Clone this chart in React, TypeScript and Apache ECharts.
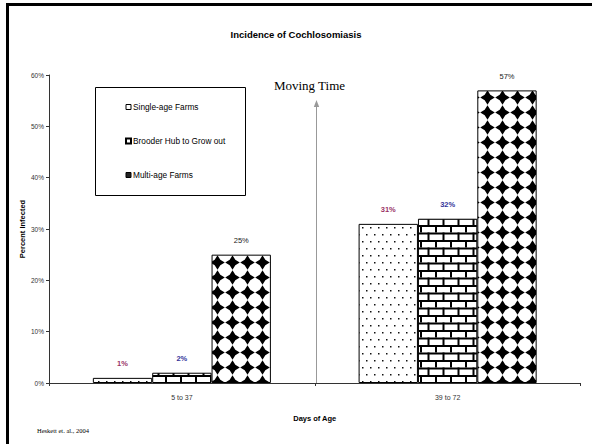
import React, { useEffect, useRef } from "react";
import * as echarts from "echarts";

const categories = ["5 to 37", "39 to 72"];
const seriesNames = ["Single-age Farms", "Brooder Hub to Grow out", "Multi-age Farms"];
const singleAge = [1, 31];
const brooderHub = [2, 32];
const multiAge = [25, 57];
const yTicks = { min: 0, max: 60, interval: 10 };

const NARROW = "'Liberation Sans Narrow', 'Arial Narrow', 'Liberation Sans', Arial, sans-serif";
const SERIF = "'Liberation Serif', 'Times New Roman', serif";

function svgUrl(svg: string) {
  return "data:image/svg+xml;utf8," + encodeURIComponent(svg);
}

const dotsTile = svgUrl(
  `<svg xmlns="http://www.w3.org/2000/svg" width="8" height="14"><rect width="8" height="14" fill="#fff"/><rect x="2" y="3" width="1.5" height="1.5" fill="#111"/><rect x="6" y="10" width="1.5" height="1.5" fill="#111"/></svg>`
);
const brickTile = svgUrl(
  `<svg xmlns="http://www.w3.org/2000/svg" width="15" height="15"><rect width="15" height="15" fill="#fff"/><rect x="0" y="0" width="15" height="2" fill="#000"/><rect x="0" y="7.5" width="15" height="2" fill="#000"/><rect x="0" y="0" width="2" height="7.5" fill="#000"/><rect x="7.5" y="7.5" width="2" height="7.5" fill="#000"/></svg>`
);
const diamondTile = svgUrl(
  `<svg xmlns="http://www.w3.org/2000/svg" width="15" height="15"><rect width="15" height="15" fill="#fff"/><polygon points="7.5,0.2 10.3,4.7 14.8,7.5 10.3,10.3 7.5,14.8 4.7,10.3 0.2,7.5 4.7,4.7" fill="#000"/></svg>`
);

export default function App() {
  const ref = useRef<HTMLDivElement>(null);
  useEffect(() => {
    if (!ref.current) return;
    const chart = echarts.init(ref.current, null, { renderer: "svg" });
    const labelBase = { show: true, position: "top", distance: 10, fontFamily: NARROW, fontSize: 7.5, formatter: "{c}%" };
    chart.setOption({
      animation: false,
      backgroundColor: "#fff",
      title: {
        text: "Incidence of Cochlosomiasis",
        left: "center",
        top: 24,
        textStyle: { fontFamily: NARROW, fontSize: 9.5, fontWeight: "bold", color: "#000" },
      },
      legend: {
        orient: "vertical",
        left: 120,
        top: 98,
        itemGap: 26,
        itemWidth: 5,
        itemHeight: 5,
        icon: "rect",
        textStyle: { fontFamily: NARROW, fontSize: 8.3, color: "#000", padding: [0, 0, 0, -3] },
        data: [
          { name: seriesNames[0], itemStyle: { color: "#fff", borderColor: "#000", borderWidth: 1 } },
          { name: seriesNames[1], itemStyle: { color: "#fff", borderColor: "#000", borderWidth: 2 } },
          { name: seriesNames[2], itemStyle: { color: "#222", borderColor: "#000", borderWidth: 1 } },
        ],
      },
      grid: { left: 49, right: 11.5, top: 75, bottom: 61, containLabel: false },
      xAxis: {
        type: "category",
        data: categories,
        name: "Days of Age",
        nameLocation: "middle",
        nameGap: 31,
        nameMoveOverlap: false,
        nameTextStyle: { fontFamily: NARROW, fontSize: 7.5, fontWeight: "bold", color: "#000" },
        axisLine: { lineStyle: { color: "#333", width: 1 } },
        axisTick: { show: true, length: 3, lineStyle: { color: "#333" } },
        axisLabel: { fontFamily: NARROW, fontSize: 7, color: "#333", margin: 11 },
      },
      yAxis: {
        type: "value",
        min: yTicks.min,
        max: yTicks.max,
        interval: yTicks.interval,
        name: "Percent Infected",
        nameLocation: "middle",
        nameGap: 23,
        nameMoveOverlap: false,
        nameTextStyle: { fontFamily: NARROW, fontSize: 7.5, fontWeight: "bold", color: "#000" },
        axisLine: { show: true, lineStyle: { color: "#333", width: 1 } },
        axisTick: { show: true, length: 3, lineStyle: { color: "#333" } },
        axisLabel: { fontFamily: NARROW, fontSize: 6.5, color: "#333", margin: 5, formatter: "{value}%" },
        splitLine: { show: false },
      },
      series: [
        {
          name: seriesNames[0],
          type: "bar",
          data: singleAge,
          barGap: "0%",
          barCategoryGap: "33%",
          itemStyle: {
            color: { image: dotsTile, repeat: "repeat", imageWidth: 8, imageHeight: 14 },
            borderColor: "#000",
            borderWidth: 1,
          },
          label: { ...labelBase, color: "#993366", fontWeight: "bold" },
        },
        {
          name: seriesNames[1],
          type: "bar",
          data: brooderHub,
          barGap: "0%",
          barCategoryGap: "33%",
          itemStyle: {
            color: { image: brickTile, repeat: "repeat", imageWidth: 15, imageHeight: 15 },
            borderColor: "#000",
            borderWidth: 1,
          },
          label: { ...labelBase, color: "#333399", fontWeight: "bold" },
        },
        {
          name: seriesNames[2],
          type: "bar",
          data: multiAge,
          barGap: "0%",
          barCategoryGap: "33%",
          itemStyle: {
            color: { image: diamondTile, repeat: "repeat", imageWidth: 15, imageHeight: 15 },
            borderColor: "#000",
            borderWidth: 1,
          },
          label: { ...labelBase, color: "#222" },
        },
      ],
      graphic: [
        {
          type: "rect",
          shape: { x: 7.5, y: 4.5, width: 620, height: 470 },
          style: { fill: "none", stroke: "#000", lineWidth: 3 },
          silent: true,
          z: 100,
        },
        {
          type: "rect",
          shape: { x: 95.5, y: 87.5, width: 150, height: 108 },
          style: { fill: "none", stroke: "#000", lineWidth: 1 },
          silent: true,
        },
        {
          type: "line",
          shape: { x1: 316.5, y1: 104, x2: 316.5, y2: 383 },
          style: { stroke: "#999", lineWidth: 1 },
          silent: true,
        },
        {
          type: "polygon",
          shape: { points: [[313.8, 107], [316.5, 100], [319.2, 107]] },
          style: { fill: "#999" },
          silent: true,
        },
        {
          type: "text",
          x: 309.5,
          y: 85,
          style: {
            text: "Moving Time",
            font: `13px ${SERIF}`,
            fill: "#000",
            textAlign: "center",
            textVerticalAlign: "middle",
          },
          silent: true,
        },
        {
          type: "text",
          x: 37,
          y: 430,
          style: {
            text: "Heskett et. al., 2004",
            font: `6.5px ${SERIF}`,
            fill: "#000",
            textAlign: "left",
            textVerticalAlign: "middle",
          },
          silent: true,
        },
      ],
    });
    return () => chart.dispose();
  }, []);
  return <div ref={ref} style={{ position: "fixed", left: 0, top: 0, width: 592, height: 444 }} />;
}
